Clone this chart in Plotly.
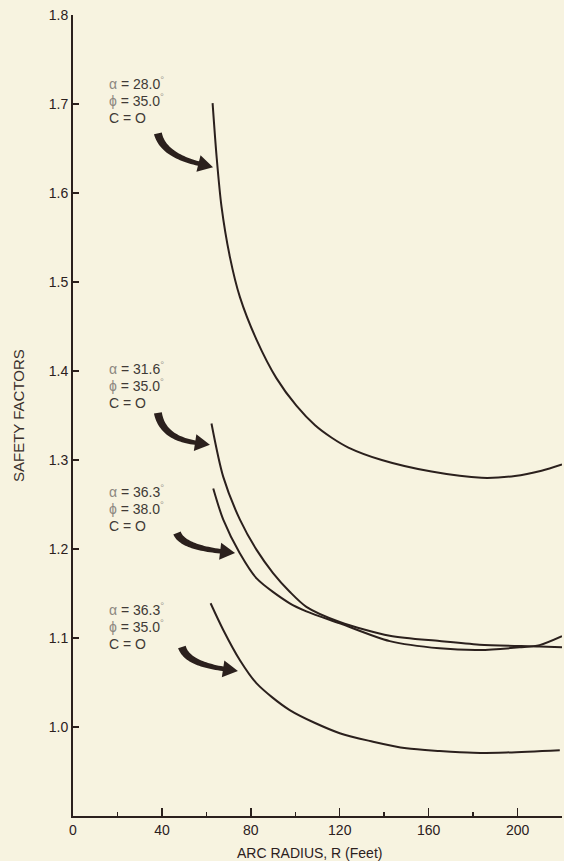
import numpy as np
import plotly.graph_objects as go

# ---------------- data ----------------
R_A = [62.8, 64.6, 66.8, 70.6, 75.1, 82.6, 91.5, 100.5, 108.9, 116.4, 123.9, 138.9, 161.3, 183.8, 198.8, 210.8, 220.0]
SF_A = [1.701, 1.641, 1.585, 1.528, 1.483, 1.435, 1.392, 1.361, 1.339, 1.325, 1.314, 1.300, 1.287, 1.280, 1.282, 1.288, 1.295]

R_B = [62.3, 67.6, 75.1, 82.6, 90.0, 97.5, 105.0, 120.0, 142.5, 164.9, 182.9, 209.9, 220.0]
SF_B = [1.341, 1.281, 1.233, 1.199, 1.173, 1.152, 1.135, 1.118, 1.1025, 1.0965, 1.0925, 1.0905, 1.0895]

R_C = [63.1, 67.6, 75.1, 82.6, 97.5, 105.0, 120.0, 142.5, 164.9, 182.9, 200.9, 209.9, 220.0]
SF_C = [1.268, 1.233, 1.195, 1.167, 1.139, 1.130, 1.1165, 1.0965, 1.0884, 1.0865, 1.0895, 1.092, 1.102]

R_D = [61.9, 67.6, 75.1, 82.6, 97.5, 120.0, 135.0, 150.0, 165.0, 180.0, 195.0, 219.0]
SF_D = [1.139, 1.109, 1.075, 1.049, 1.019, 0.993, 0.9835, 0.976, 0.973, 0.971, 0.9714, 0.974]

LABELS = [
    ["28.0", "35.0"],
    ["31.6", "35.0"],
    ["36.3", "38.0"],
    ["36.3", "35.0"],
]
X_TICKS = [0, 40, 80, 120, 160, 200]
X_MINOR = [20, 60, 100, 140, 180, 220]
Y_TICKS = [1.0, 1.1, 1.2, 1.3, 1.4, 1.5, 1.6, 1.7, 1.8]

# ---------------- layout geometry ----------------
FW, FH = 564, 861
L, T, RM, B = 73, 15, 2, 45
W, H = FW - L - RM, FH - T - B
XR = [0, 220]
YR = [0.9, 1.8]

INK = "#2b201d"
BG = "#f7f3e0"
FONT = "Liberation Sans, Arial, Helvetica, sans-serif"


def d2p(r, sf):
    return (L + (r - XR[0]) / (XR[1] - XR[0]) * W, T + (YR[1] - sf) / (YR[1] - YR[0]) * H)


def p2d(px, py):
    return (XR[0] + (px - L) / W * (XR[1] - XR[0]), YR[1] - (py - T) / H * (YR[1] - YR[0]))


def arrow_path(tail, tip, dirv, hl=15.0, hw=8.5, w0=8.0, w1=4.5):
    P0 = np.array(d2p(*tail))
    P3 = np.array(d2p(*tip))
    d = np.array(dirv, float)
    d /= np.linalg.norm(d)
    Bp = P3 - hl * d
    cx = P0[0] + 0.12 * (Bp[0] - P0[0])
    t = (Bp[0] - cx) / d[0]
    C = Bp - t * d
    s = np.linspace(0, 1, 30)
    pts = ((1 - s) ** 2)[:, None] * P0 + (2 * (1 - s) * s)[:, None] * C + (s ** 2)[:, None] * Bp
    der = (2 * (1 - s))[:, None] * (C - P0) + (2 * s)[:, None] * (Bp - C)
    tang = der / np.linalg.norm(der, axis=1)[:, None]
    nrm = np.stack([-tang[:, 1], tang[:, 0]], axis=1)
    w = w0 + (w1 - w0) * s
    left = pts + nrm * (w / 2)[:, None]
    right = pts - nrm * (w / 2)[:, None]
    ne = nrm[-1]
    poly = list(left) + [Bp + ne * hw, P3, Bp - ne * hw] + list(right[::-1])
    dpts = [p2d(px, py) for px, py in poly]
    return "M " + " L ".join(f"{x:.3f},{y:.5f}" for x, y in dpts) + " Z"


fig = go.Figure()
for rr, ss in [(R_A, SF_A), (R_B, SF_B), (R_C, SF_C), (R_D, SF_D)]:
    fig.add_trace(go.Scatter(x=rr, y=ss, mode="lines",
                             line=dict(color=INK, width=2, shape="spline", smoothing=0.8),
                             hoverinfo="skip", showlegend=False))

# label blocks (decorations): top line pixel y, left pixel x
label_tops = [83, 368, 491, 609]
arrows = [
    ((38.2, 1.667), (63.0, 1.629), (1, 0.25)),
    ((38.2, 1.353), (61.6, 1.317), (1, 0.15)),
    ((46.8, 1.218), (72.9, 1.1955), (1, 0.12)),
    ((49.0, 1.0899), (74.2, 1.0629), (1, 0.15)),
]

annotations = []
deg = "<sup><span style='color:#a09a90'>°</span></sup>"
for (a, p), ty in zip(LABELS, label_tops):
    lines = [
        f"<span style='color:#8c877f'>α</span> = {a}{deg}",
        f"<span style='color:#8c877f'>ϕ</span> = {p}{deg}",
        "C = O",
    ]
    for i, txt in enumerate(lines):
        xr, yr = p2d(107, ty + 17.3 * i)
        annotations.append(dict(x=xr, y=yr, xref="x", yref="y", text=txt, showarrow=False,
                                xanchor="left", yanchor="middle",
                                font=dict(family=FONT, size=14, color="#403a36")))

shapes = []
for tail, tip, dv in arrows:
    shapes.append(dict(type="path", path=arrow_path(tail, tip, dv), xref="x", yref="y",
                       fillcolor=INK, line=dict(width=0), layer="above"))

annotations.append(dict(text="ARC RADIUS, R (Feet)", xref="paper", yref="paper",
                        x=(309 - L) / W, y=-(853 - (T + H)) / H, xanchor="center", yanchor="middle",
                        showarrow=False, font=dict(family=FONT, size=14, color=INK)))
annotations.append(dict(text="SAFETY FACTORS", xref="paper", yref="paper",
                        x=(18 - L) / W, y=((T + H) - 416) / H, xanchor="center", yanchor="middle",
                        textangle=-90, showarrow=False, font=dict(family=FONT, size=15, color="#3a302c")))

fig.update_layout(
    width=FW, height=FH,
    margin=dict(l=L, r=RM, t=T, b=B, pad=0),
    paper_bgcolor=BG, plot_bgcolor=BG,
    shapes=shapes, annotations=annotations,
    xaxis=dict(range=XR, tickvals=X_TICKS, ticks="inside", ticklen=8, tickwidth=1.5,
               tickcolor=INK, showline=True, linewidth=2, linecolor=INK,
               showgrid=False, zeroline=False,
               tickfont=dict(family=FONT, size=14, color=INK),
               minor=dict(tickvals=X_MINOR, ticks="inside", ticklen=4, tickwidth=1.5, tickcolor=INK, showgrid=False)),
    yaxis=dict(range=YR, tickvals=Y_TICKS, ticktext=[f"{v:.1f}" for v in Y_TICKS],
               ticks="inside", ticklen=6, tickwidth=1.5, tickcolor=INK,
               showline=True, linewidth=2, linecolor=INK,
               showgrid=False, zeroline=False,
               tickfont=dict(family=FONT, size=14, color=INK)),
)

fig.write_html("out.html", config={"displayModeBar": False, "staticPlot": True},
               post_script="document.body.style.margin='0';document.body.style.padding='0';"
                           "document.body.style.background='" + BG + "';")
